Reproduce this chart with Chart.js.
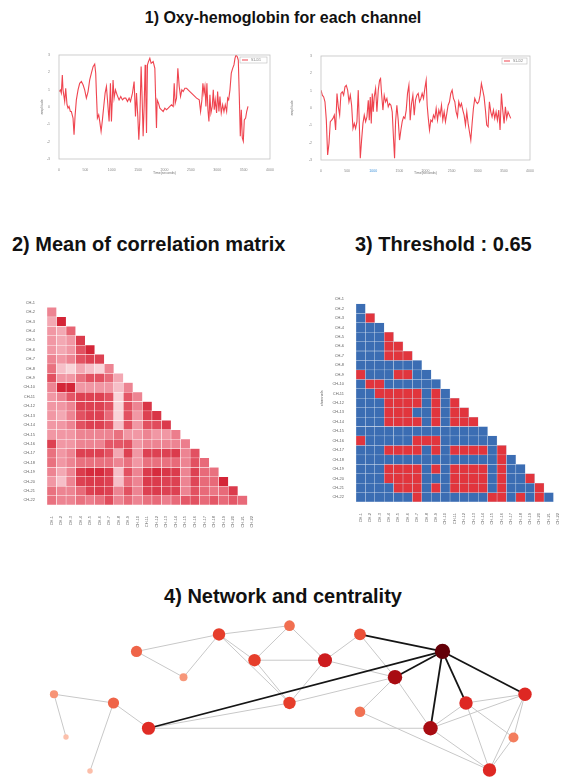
<!DOCTYPE html>
<html><head><meta charset="utf-8">
<script src="https://cdn.jsdelivr.net/npm/chart.js@4.4.0/dist/chart.umd.min.js"></script>
<style>
html,body{margin:0;padding:0;background:#fff;}
#page{position:relative;width:566px;height:783px;overflow:hidden;font-family:"Liberation Sans",Arial,sans-serif;}
.t{position:absolute;font-weight:bold;color:#111;white-space:nowrap;line-height:1.15;}
canvas{position:absolute;}
</style></head><body><div id="page">
<div class="t" style="left:0;width:566px;text-align:center;top:9px;font-size:16px">1) Oxy-hemoglobin for each channel</div>
<div class="t" style="left:12px;top:233px;font-size:20px">2) Mean of correlation matrix</div>
<div class="t" style="left:355px;top:233px;font-size:20px">3) Threshold : 0.65</div>
<div class="t" style="left:0;width:566px;text-align:center;top:585px;font-size:20px">4) Network and centrality</div>
<canvas id="line1" width="240" height="130" style="left:40px;top:45px"></canvas>
<canvas id="line2" width="250" height="130" style="left:290px;top:45px"></canvas>
<canvas id="mat1" width="242" height="240" style="left:18px;top:290px"></canvas>
<canvas id="mat2" width="248" height="240" style="left:318px;top:288px"></canvas>
<canvas id="net" width="530" height="178" style="left:30px;top:605px"></canvas>
</div>
<script>
// ---------- DATA ----------
const timeTicks = [0, 500, 1000, 1500, 2000, 2500, 3000, 3500, 4000];
const ampTicks = [-3, -2, -1, 0, 1, 2, 3];

const leftTime = [0,25,44,63,76,108,127,152,171,190,
215,234,266,285,304,329,361,392,424,456,
487,519,551,582,614,646,677,696,709,728,
753,772,798,823,848,874,899,924,950,975,
994,1025,1044,1070,1101,1139,1171,1203,1234,1266,
1298,1329,1355,1393,1424,1450,1469,1494,1513,1532,
1557,1576,1595,1614,1633,1646,1659,1677,1696,1722,
1747,1785,1817,1836,1848,1861,1886,1912,1943,1975,
2007,2038,2070,2102,2133,2165,2184,2203,2228,2253,
2279,2304,2329,2355,2386,2418,2481,2545,2608,2659,
2684,2709,2728,2747,2766,2785,2804,2823,2842,2861,
2880,2905,2925,2943,2962,2988,3007,3032,3051,3076,
3102,3127,3152,3178,3197,3216,3241,3266,3292,3317,
3336,3355,3380,3399,3418,3437,3456,3475,3494,3513,
3538,3558,3583];
const leftValue = [0.89,0.99,0.80,1.85,0.99,0.32,1.08,0.13,-0.07,0.03,
-0.26,-0.26,-0.64,-1.60,-0.54,0.41,0.99,1.37,1.47,1.28,
0.99,0.51,0.89,1.56,1.95,2.33,2.48,1.95,0.80,-0.64,
-0.45,-0.83,-1.41,-0.74,0.03,0.80,1.18,0.22,-0.83,1.37,
-0.83,1.56,0.51,0.99,0.70,0.41,0.61,0.41,0.51,0.51,
0.32,0.51,0.32,0.80,1.47,-0.54,0.80,-0.54,-1.89,-0.74,
2.33,0.51,-1.69,0.03,2.43,0.61,-1.50,2.43,2.62,2.81,
2.52,2.62,2.23,0.03,-1.21,0.41,0.22,-0.07,-0.16,-0.26,
-0.07,-0.16,-0.07,0.03,0.13,0.03,1.37,0.22,0.51,2.23,
1.18,0.61,0.99,0.89,1.08,1.08,0.89,0.70,0.51,0.41,
-0.26,0.41,1.37,0.80,1.18,0.03,1.37,-0.16,-0.83,0.70,
-0.35,0.03,0.99,-0.16,0.41,-0.35,0.89,-0.26,0.61,-0.35,
0.13,-0.26,0.13,-0.26,0.51,0.41,0.99,1.95,2.23,2.43,
2.81,3.0,2.90,2.71,0.61,-1.69,-0.16,-1.79,-1.98,-0.74,
-0.64,-0.26,0.03];

const rightTime = [0,25,51,76,102,127,153,178,204,229,
255,280,306,331,357,382,408,433,459,484,
510,535,561,586,612,637,662,688,713,733,
752,777,803,828,854,879,905,924,943,962,
981,1000,1019,1045,1070,1096,1121,1140,1159,1185,
1210,1236,1261,1287,1312,1338,1363,1389,1408,1427,
1452,1478,1503,1529,1554,1580,1605,1631,1656,1682,
1707,1733,1758,1784,1809,1835,1860,1886,1911,1936,
1962,1987,2013,2032,2051,2077,2102,2128,2153,2179,
2204,2230,2255,2280,2306,2331,2357,2382,2408,2433,
2459,2484,2510,2535,2561,2586,2612,2637,2663,2688,
2714,2739,2765,2790,2816,2841,2867,2892,2917,2943,
2968,2994,3019,3045,3070,3096,3121,3147,3172,3198,
3223,3249,3274,3300,3325,3351,3376,3402,3427,3453,
3478,3504,3529,3554,3580,3605,3631];
const rightValue = [1.03,0.74,0.64,0.36,-0.70,-2.71,-2.04,-0.79,-0.70,-0.60,
-0.41,-1.27,0.84,0.07,-0.41,0.84,0.93,0.74,1.22,1.31,
1.03,0.36,0.74,0.16,-1.18,-0.89,-1.18,-0.79,1.03,-0.89,
-2.90,-1.85,-0.89,-0.41,-0.79,-0.51,0.45,-0.70,0.64,-0.89,
0.84,-0.22,0.64,1.12,-0.22,1.03,1.60,1.70,0.84,-0.12,
0.74,0.36,0.55,0.07,0.26,0.16,-0.22,-1.85,-2.90,-0.79,
0.16,-0.70,-1.85,-1.27,-0.79,-0.51,-0.60,-0.12,0.84,1.31,
-0.70,0.26,0.74,-0.41,0.45,0.74,0.84,0.36,0.55,0.84,
0.55,1.12,1.60,0.16,-0.51,-1.27,-0.70,-0.79,-0.41,-0.60,
-0.03,-0.70,-0.12,-0.41,0.16,-0.70,-0.22,-0.79,-0.31,0.16,
0.36,0.84,1.03,0.55,0.36,-0.22,-0.51,0.36,0.07,0.26,
-0.12,-0.41,-0.98,-0.22,-0.89,-1.37,-1.85,-0.89,-0.03,0.55,
0.36,0.26,0.36,0.74,1.41,1.03,0.64,-0.12,-0.98,-1.08,
0.36,-0.22,-0.51,-0.12,-0.60,-0.22,-0.70,-0.12,-1.27,0.84,
-0.12,-0.89,0.07,-0.60,-0.22,-0.41,-0.60];

const channels = ['CH-1','CH-2','CH-3','CH-4','CH-5','CH-6','CH-7','CH-8','CH-9','CH-10','CH-11',
  'CH-12','CH-13','CH-14','CH-15','CH-16','CH-17','CH-18','CH-19','CH-20','CH-21','CH-22'];

// mean correlation, lower triangle; first row is CH-2
const meanCorr = [
[0.52],
[0.40,0.84],
[0.46,0.40,0.62],
[0.46,0.40,0.46,0.76],
[0.46,0.40,0.46,0.68,0.84],
[0.52,0.46,0.52,0.68,0.74,0.74],
[0.58,0.32,0.25,0.40,0.32,0.25,0.52],
[0.68,0.46,0.46,0.58,0.68,0.68,0.60,0.40],
[0.52,0.84,0.84,0.46,0.46,0.46,0.46,0.32,0.52],
[0.46,0.52,0.66,0.74,0.74,0.74,0.68,0.25,0.66,0.52],
[0.46,0.46,0.52,0.74,0.74,0.74,0.68,0.25,0.68,0.52,0.78],
[0.46,0.40,0.52,0.68,0.74,0.74,0.60,0.25,0.68,0.46,0.74,0.78],
[0.46,0.46,0.52,0.68,0.74,0.74,0.68,0.32,0.68,0.46,0.68,0.70,0.76],
[0.46,0.46,0.46,0.52,0.52,0.52,0.52,0.58,0.46,0.46,0.52,0.46,0.46,0.54],
[0.74,0.46,0.46,0.52,0.52,0.52,0.66,0.66,0.68,0.46,0.52,0.52,0.52,0.52,0.54],
[0.58,0.46,0.52,0.74,0.74,0.74,0.68,0.40,0.74,0.46,0.74,0.74,0.74,0.76,0.52,0.68],
[0.58,0.46,0.52,0.58,0.58,0.58,0.58,0.52,0.58,0.46,0.58,0.58,0.58,0.60,0.52,0.68,0.60],
[0.52,0.40,0.52,0.76,0.82,0.82,0.76,0.32,0.68,0.52,0.76,0.82,0.78,0.76,0.52,0.74,0.60,0.58],
[0.46,0.32,0.52,0.74,0.76,0.76,0.74,0.32,0.60,0.52,0.76,0.76,0.74,0.74,0.52,0.72,0.60,0.60,0.84],
[0.58,0.52,0.52,0.60,0.74,0.76,0.74,0.52,0.68,0.52,0.74,0.76,0.74,0.74,0.52,0.68,0.60,0.56,0.60,0.76],
[0.58,0.52,0.52,0.58,0.54,0.58,0.70,0.52,0.60,0.52,0.58,0.60,0.54,0.60,0.66,0.68,0.60,0.66,0.60,0.66,0.60]
];

// thresholded matrix (1 = above 0.65); first row is CH-2
const thresholded = [
[0],
[0,1],
[0,0,0],
[0,0,0,1],
[0,0,0,1,1],
[0,0,0,1,1,1],
[0,0,0,0,0,0,0],
[1,0,0,0,1,1,0,0],
[0,1,1,0,0,0,0,0,0],
[0,0,1,1,1,1,1,0,1,0],
[0,0,0,1,1,1,1,0,1,0,1],
[0,0,0,1,1,1,0,0,1,0,1,1],
[0,0,0,1,1,1,1,0,1,0,1,1,1],
[0,0,0,0,0,0,0,0,0,0,0,0,0,0],
[1,0,0,0,0,0,1,1,1,0,0,0,0,0,0],
[0,0,0,1,1,1,1,0,1,0,1,1,1,1,0,1],
[0,0,0,0,0,0,0,0,0,0,0,0,0,0,0,1,0],
[0,0,0,1,1,1,1,0,1,0,1,1,1,1,0,1,0,0],
[0,0,0,1,1,1,1,0,0,0,1,1,1,1,0,1,0,0,1],
[0,0,0,0,1,1,1,0,1,0,1,1,1,1,0,1,0,0,0,1],
[0,0,0,0,0,0,1,0,0,0,0,0,0,0,1,1,0,1,0,1,0]
];

// network layout (arbitrary layout units) and centrality
const nodeIds = ['A','B','C','D','E','F','G','H','I','J','K','L','M','N','O','P','Q','R','S','T','U'];
const nodeX = [19.3,35.8,49.9,42.9,28.7,2.8,14.7,21.7,5.2,10.0,49.9,64.0,57.0,80.5,71.0,64.0,85.2,97.0,78.1,94.7,89.9];
const nodeY = [7.5,4.0,2.2,9.3,12.8,16.3,18.1,23.3,25.1,32.1,18.1,4.0,9.3,7.5,12.8,19.9,18.1,16.3,23.3,25.2,31.9];
const centrality = [0.60,0.72,0.55,0.72,0.28,0.30,0.60,0.80,0.02,0.03,0.72,0.66,0.88,1.00,0.92,0.54,0.82,0.82,0.92,0.48,0.82];
const strongEdges = [['H','N'],['L','N'],['O','N'],['N','S'],['N','Q'],['N','R']];
const weakEdges = [['A','B'],['A','E'],['E','B'],['B','C'],['B','D'],['B','K'],['D','K'],['C','D'],['C','M'],['D','M'],
  ['F','G'],['F','I'],['G','H'],['G','J'],['H','S'],['H','K'],['K','M'],['K','O'],['L','M'],['L','O'],['M','O'],
  ['O','P'],['O','S'],['P','U'],['S','Q'],['S','R'],['S','U'],['Q','R'],['Q','T'],['Q','U'],['R','T'],['R','U'],['T','U']];

// ---------- HELPERS ----------
function lerpStops(stops, t) {
  t = Math.max(0, Math.min(1, t));
  for (let i = 1; i < stops.length; i++) {
    if (t <= stops[i][0]) {
      const a = stops[i - 1], b = stops[i];
      const f = (t - a[0]) / (b[0] - a[0] || 1);
      const c = [0, 1, 2].map(k => Math.round(a[1][k] + (b[1][k] - a[1][k]) * f));
      return `rgb(${c[0]},${c[1]},${c[2]})`;
    }
  }
  const l = stops[stops.length - 1][1];
  return `rgb(${l[0]},${l[1]},${l[2]})`;
}
const heatStops = [[0,[251,226,230]],[0.4,[241,150,163]],[0.7,[228,86,102]],[1,[210,32,50]]];
const heatColor = v => lerpStops(heatStops, (v - 0.2) / 0.66);
const binColor = v => v ? '#e1353d' : '#3b6db3';
const nodeStops = [[0,[252,195,175]],[0.3,[247,148,118]],[0.5,[243,122,90]],[0.6,[239,100,72]],[0.7,[232,66,45]],
  [0.82,[222,40,35]],[0.88,[205,28,30]],[0.92,[168,12,18]],[1,[100,0,8]]];

const LINE_COLOR = 'rgba(238,58,70,0.95)';
const framePlugin = {
  id: 'frame',
  afterDatasetsDraw(chart, args, opts) {
    const { ctx, chartArea: a } = chart;
    ctx.save();
    ctx.strokeStyle = '#c2c2c2'; ctx.lineWidth = 0.8;
    ctx.strokeRect(a.left, a.top, a.right - a.left, a.bottom - a.top);
    if (opts && opts.label) {
      const w = opts.w, h = 6, x = a.right - w - 3, y = a.top + 2;
      ctx.fillStyle = '#fff'; ctx.fillRect(x, y, w, h);
      ctx.strokeStyle = '#bbb'; ctx.lineWidth = 0.6; ctx.strokeRect(x, y, w, h);
      ctx.strokeStyle = LINE_COLOR; ctx.lineWidth = 1;
      ctx.beginPath(); ctx.moveTo(x + 2, y + h / 2); ctx.lineTo(x + 8, y + h / 2); ctx.stroke();
      ctx.fillStyle = '#777'; ctx.font = '3.5px "Liberation Sans", sans-serif';
      ctx.textBaseline = 'middle'; ctx.fillText(opts.label, x + 11, y + h / 2);
    }
    ctx.restore();
  }
};

function lineChart(id, times, values, label, cfg) {
  new Chart(document.getElementById(id), {
    type: 'line',
    data: { datasets: [{ data: times.map((t, i) => ({ x: t, y: values[i] })), borderColor: LINE_COLOR,
      borderWidth: 1.1, pointRadius: 0, tension: 0, fill: false }] },
    options: {
      responsive: false, animation: false, events: [],
      layout: { padding: { top: cfg.top, right: cfg.right, left: 0, bottom: 0 } },
      plugins: { legend: { display: false }, tooltip: { enabled: false }, frame: { label, w: cfg.lw } },
      scales: {
        x: { type: 'linear', min: timeTicks[0], max: timeTicks[timeTicks.length - 1],
          afterBuildTicks: s => { s.ticks = timeTicks.map(v => ({ value: v })); },
          grid: { display: false }, border: { display: false },
          ticks: { font: { size: 3.5 }, color: ctx => (cfg.blueTick === ctx.tick.value ? '#3a8fd8' : '#888'), padding: 1, maxRotation: 0,
            callback: v => String(v) },
          title: { display: true, text: 'Time(seconds)', font: { size: 3.5 }, color: '#777', padding: 0 },
          afterFit: s => { s.height = cfg.xH; } },
        y: { min: ampTicks[0], max: ampTicks[ampTicks.length - 1],
          afterBuildTicks: s => { s.ticks = ampTicks.map(v => ({ value: v })); },
          grid: { display: false }, border: { display: false },
          ticks: { font: { size: 3.5 }, color: '#888', padding: 1 },
          title: { display: true, text: 'amplitude', font: { size: 3.5 }, color: '#777', padding: 0 },
          afterFit: s => { s.width = cfg.yW; } }
      }
    },
    plugins: [framePlugin]
  });
}

function matrixChart(id, rows, colorOf, cfg) {
  const datasets = rows.map((row, r) => ({
    data: channels.map((_, c) => (c < row.length ? [r + 1.5, r + 2.5] : null)),
    backgroundColor: ctx => colorOf(row[ctx.dataIndex]),
    borderColor: cfg.gridColor, borderWidth: 0.5, borderSkipped: false,
    barPercentage: 1, categoryPercentage: 1, grouped: false
  }));
  new Chart(document.getElementById(id), {
    type: 'bar',
    data: { labels: channels, datasets },
    options: {
      responsive: false, animation: false, events: [],
      layout: { padding: cfg.padding },
      plugins: { legend: { display: false }, tooltip: { enabled: false } },
      scales: {
        x: { grid: { display: false }, border: { display: false },
          ticks: { autoSkip: false, minRotation: 90, maxRotation: 90, font: { size: 4 }, color: '#666', padding: 3 },
          afterFit: s => { s.height = cfg.xH; } },
        y: { type: 'linear', min: 0.5, max: channels.length + 0.5, reverse: true,
          grid: { display: false }, border: { display: false },
          afterBuildTicks: s => { s.ticks = channels.map((_, i) => ({ value: i + 1 })); },
          ticks: { autoSkip: false, font: { size: 4 }, color: '#666', padding: 4, callback: v => channels[v - 1] },
          title: cfg.yTitle ? { display: true, text: cfg.yTitle, font: { size: 4 }, color: '#666', padding: 1 } : { display: false },
          afterFit: s => { s.width = cfg.yW; } }
      }
    }
  });
}

// ---------- CHARTS ----------
lineChart('line1', leftTime, leftValue, 'S1-D1', { top: 10, right: 10, xH: 16, yW: 19, lw: 27 });
lineChart('line2', rightTime, rightValue, 'S1-D2', { top: 11, right: 10, xH: 15, yW: 31, lw: 25, blueTick: 1000 });

matrixChart('mat1', meanCorr, heatColor, { padding: { top: 8, right: 2, left: 0, bottom: 0 }, xH: 25, yW: 29, gridColor: 'rgba(255,255,255,0.95)' });
matrixChart('mat2', thresholded, binColor, { padding: { top: 4.5, right: 0.6, left: 0, bottom: 0 }, xH: 26, yW: 38, gridColor: 'rgba(200,215,235,0.7)', yTitle: 'channels' });

(function () {
  const idx = id => nodeIds.indexOf(id);
  const pt = id => ({ x: nodeX[idx(id)], y: nodeY[idx(id)] });
  const datasets = [{
    data: nodeIds.map((_, i) => ({ x: nodeX[i], y: nodeY[i] })),
    pointRadius: ctx => 2.6 + 5 * centrality[ctx.dataIndex],
    backgroundColor: ctx => lerpStops(nodeStops, centrality[ctx.dataIndex]),
    borderWidth: 0, order: 0, clip: false
  }];
  weakEdges.forEach(([a, b]) => datasets.push({ data: [pt(a), pt(b)], showLine: true, borderColor: '#c8c8c8',
    borderWidth: 1, pointRadius: 0, order: 2, clip: false }));
  strongEdges.forEach(([a, b]) => datasets.push({ data: [pt(a), pt(b)], showLine: true, borderColor: '#151515',
    borderWidth: 1.8, pointRadius: 0, order: 1, clip: false }));
  new Chart(document.getElementById('net'), {
    type: 'scatter',
    data: { datasets },
    options: {
      responsive: false, animation: false, events: [],
      layout: { padding: { left: 10, right: 20, top: 10, bottom: 3 } },
      plugins: { legend: { display: false }, tooltip: { enabled: false } },
      scales: { x: { type: 'linear', min: 0, max: 100, display: false },
                y: { type: 'linear', min: 0, max: 33, reverse: true, display: false } }
    }
  });
})();
</script>
</body></html>
